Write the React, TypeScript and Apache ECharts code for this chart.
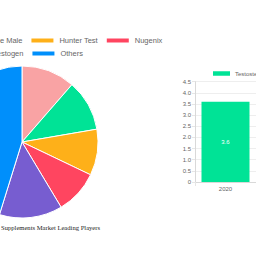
import React, { useEffect, useRef } from "react";
import * as echarts from "echarts";

const pieNames = ["TestoPrime", "Prime Male", "Hunter Test", "Nugenix", "Testogen", "Others"];
const pieValues = [11.4, 10.9, 9.8, 9.3, 13.4, 45.2];
const pieColors = ["#F9A3A4", "#00E396", "#FEB019", "#FF4560", "#775DD0", "#008FFB"];
const legendRow1 = ["TestoPrime", "Prime Male", "Hunter Test", "Nugenix"];
const legendRow2 = ["Testogen", "Others"];

const barSeriesName = "Testosterone Booster Supplements";
const barYears = ["2020"];
const barValues = [3.6];

const titleText = "Testosterone Booster Supplements Market Leading Players";

export default function App() {
  const ref = useRef<HTMLDivElement>(null);
  useEffect(() => {
    document.body.style.margin = "0";
    const chart = echarts.init(ref.current!, null, { renderer: "svg" });
    const legendText = { fontSize: 7.5, color: "#666", fontFamily: "Liberation Sans, Arial, sans-serif" };
    chart.setOption({
      animation: false,
      legend: [
        {
          data: legendRow1,
          left: -120,
          top: 36.5,
          orient: "horizontal",
          icon: "rect",
          itemWidth: 24,
          itemHeight: 6,
          itemGap: 7,
          padding: 0,
          textStyle: legendText,
        },
        {
          data: legendRow2,
          left: -37,
          top: 49.5,
          orient: "horizontal",
          icon: "rect",
          itemWidth: 24,
          itemHeight: 6,
          itemGap: 7,
          padding: 0,
          textStyle: legendText,
        },
        {
          data: [barSeriesName],
          left: 213,
          top: 70.5,
          icon: "rect",
          itemWidth: 17,
          itemHeight: 4.5,
          padding: 0,
          textStyle: { fontSize: 6, color: "#666", fontFamily: "Liberation Sans, Arial, sans-serif" },
        },
      ],
      grid: { left: 195, right: -6, top: 81.7, bottom: 74 },
      xAxis: {
        type: "category",
        data: barYears,
        axisLine: { lineStyle: { color: "#d9d9d9", width: 1 } },
        axisTick: { show: true, length: 4, lineStyle: { color: "#e6e6e6" } },
        axisLabel: { fontSize: 6, color: "#666", margin: 4, fontFamily: "Liberation Sans, Arial, sans-serif" },
        splitLine: { show: true, lineStyle: { color: "#eeeeee" } },
      },
      yAxis: {
        type: "value",
        min: 0,
        max: 4.5,
        interval: 0.5,
        axisLine: { show: true, lineStyle: { color: "#d9d9d9", width: 1 } },
        axisTick: { show: true, length: 3, lineStyle: { color: "#e6e6e6" } },
        axisLabel: {
          fontSize: 6,
          color: "#666",
          margin: 4,
          fontFamily: "Liberation Sans, Arial, sans-serif",
          formatter: (v: number) => (v === 0 ? "0" : v.toFixed(1)),
        },
        splitLine: { show: true, lineStyle: { color: "#eeeeee" } },
      },
      series: [
        {
          type: "pie",
          center: [22, 142],
          radius: 76,
          startAngle: 90,
          clockwise: true,
          label: { show: false },
          labelLine: { show: false },
          itemStyle: { borderColor: "#fff", borderWidth: 1 },
          emphasis: { disabled: true },
          data: pieNames.map((n, i) => ({ name: n, value: pieValues[i], itemStyle: { color: pieColors[i] } })),
        },
        {
          type: "bar",
          name: barSeriesName,
          data: barValues,
          barWidth: 48,
          itemStyle: { color: "#00E396" },
          label: {
            show: true,
            position: "inside",
            color: "#fff",
            fontSize: 6,
            fontFamily: "Liberation Sans, Arial, sans-serif",
          },
        },
      ],
      graphic: [
        {
          type: "text",
          x: 22,
          y: 227,
          style: {
            text: titleText,
            textAlign: "center",
            textVerticalAlign: "middle",
            fill: "#222",
            font: "6.6px 'Liberation Serif', 'Times New Roman', serif",
          },
        },
      ],
    });
    return () => chart.dispose();
  }, []);
  return <div ref={ref} style={{ width: 256, height: 256 }} />;
}
